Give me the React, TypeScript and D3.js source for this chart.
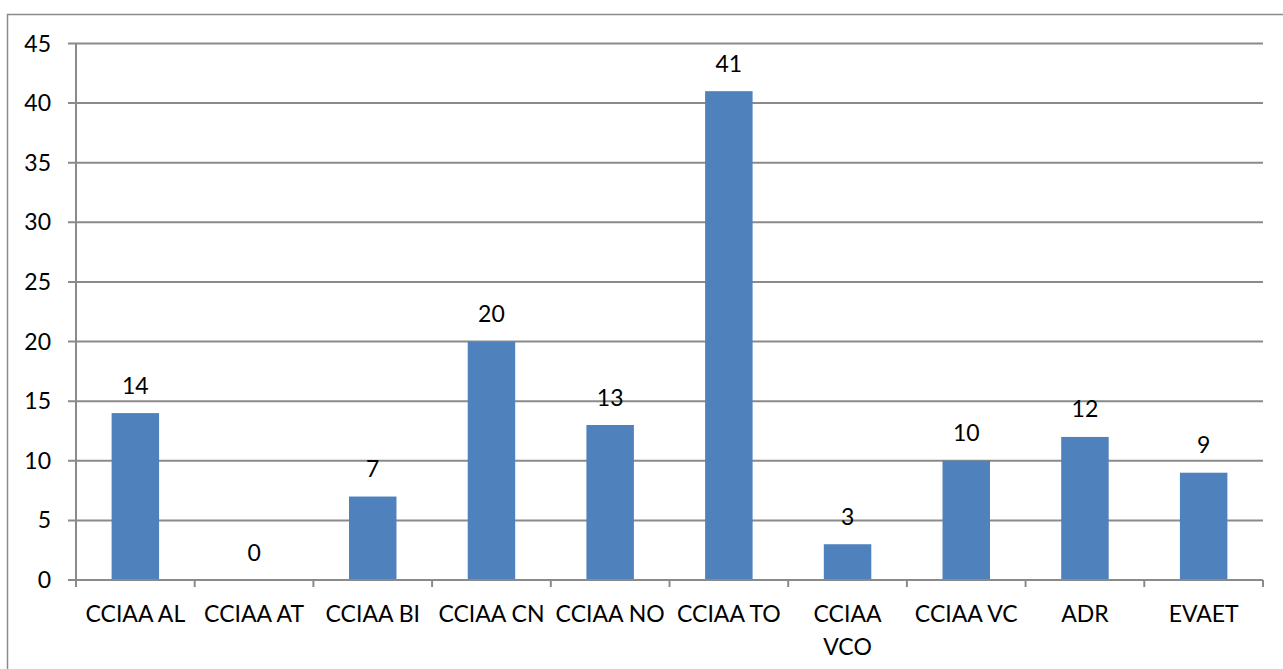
import React from 'react';
import * as d3 from 'd3';

const categories = ['CCIAA AL', 'CCIAA AT', 'CCIAA BI', 'CCIAA CN', 'CCIAA NO', 'CCIAA TO', 'CCIAA VCO', 'CCIAA VC', 'ADR', 'EVAET'];
const values = [14, 0, 7, 20, 13, 41, 3, 10, 12, 9];
const yTicks = [0, 5, 10, 15, 20, 25, 30, 35, 40, 45];
// Excel wrapped this one label onto two lines
const wrapped: Record<string, string[]> = { 'CCIAA VCO': ['CCIAA', 'VCO'] };

const width = 1283, height = 669;
const margin = { left: 76, right: 20, top: 43.5, bottom: 89 };
const gridColor = '#8a8a8a';
const barColor = '#4F81BD';
const font = 'Lato, "Open Sans", sans-serif';
const fontSize = 23;

const App = () => {
    const xScale = d3.scaleBand().domain(categories).range([margin.left, 1263]).paddingInner(0.6).paddingOuter(0.3);
    const yScale = d3.scaleLinear().domain([0, 45]).range([580, margin.top]);
    const step = xScale.step();
    const x0 = margin.left;

    return (
        <div style={{ position: 'absolute', left: 0, top: 0 }}>
            <svg width={width} height={height} style={{ display: 'block', background: '#fff' }}>
                <rect x={7.5} y={14.5} width={1300} height={700} fill='none' stroke={gridColor} strokeWidth={1.5} />
                {yTicks.map(t => (
                    <g key={t}>
                        <line x1={68} x2={1263} y1={yScale(t)} y2={yScale(t)} stroke={gridColor} strokeWidth={2} />
                        <text x={51} y={yScale(t)} dy='0.35em' textAnchor='end' fontFamily={font} fontSize={fontSize} fill='#000'>{t}</text>
                    </g>
                ))}
                {values.map((v, i) => {
                    const c = categories[i];
                    const bx = xScale(c) as number;
                    return (
                        <g key={c}>
                            <rect x={bx} y={yScale(v)} width={xScale.bandwidth()} height={yScale(0) - yScale(v)} fill={barColor} />
                            <text x={bx + xScale.bandwidth() / 2} y={yScale(v) - 19.5} textAnchor='middle' fontFamily={font} fontSize={fontSize} fill='#000'>{v}</text>
                        </g>
                    );
                })}
                <line x1={x0} x2={x0} y1={margin.top} y2={587} stroke={gridColor} strokeWidth={2} />
                <line x1={68} x2={1263} y1={yScale(0)} y2={yScale(0)} stroke={gridColor} strokeWidth={2} />
                {d3.range(categories.length + 1).map(i => (
                    <line key={i} x1={x0 + i * step} x2={x0 + i * step} y1={580} y2={587} stroke={gridColor} strokeWidth={2} />
                ))}
                {categories.map(c => {
                    const cx = (xScale(c) as number) + xScale.bandwidth() / 2;
                    const lines = wrapped[c] || [c];
                    return (
                        <text key={c} textAnchor='middle' fontFamily={font} fontSize={fontSize} fill='#000'>
                            {lines.map((l, j) => (
                                <tspan key={j} x={cx} y={622 + j * 33}>{l}</tspan>
                            ))}
                        </text>
                    );
                })}
            </svg>
        </div>
    );
};

export default App;
